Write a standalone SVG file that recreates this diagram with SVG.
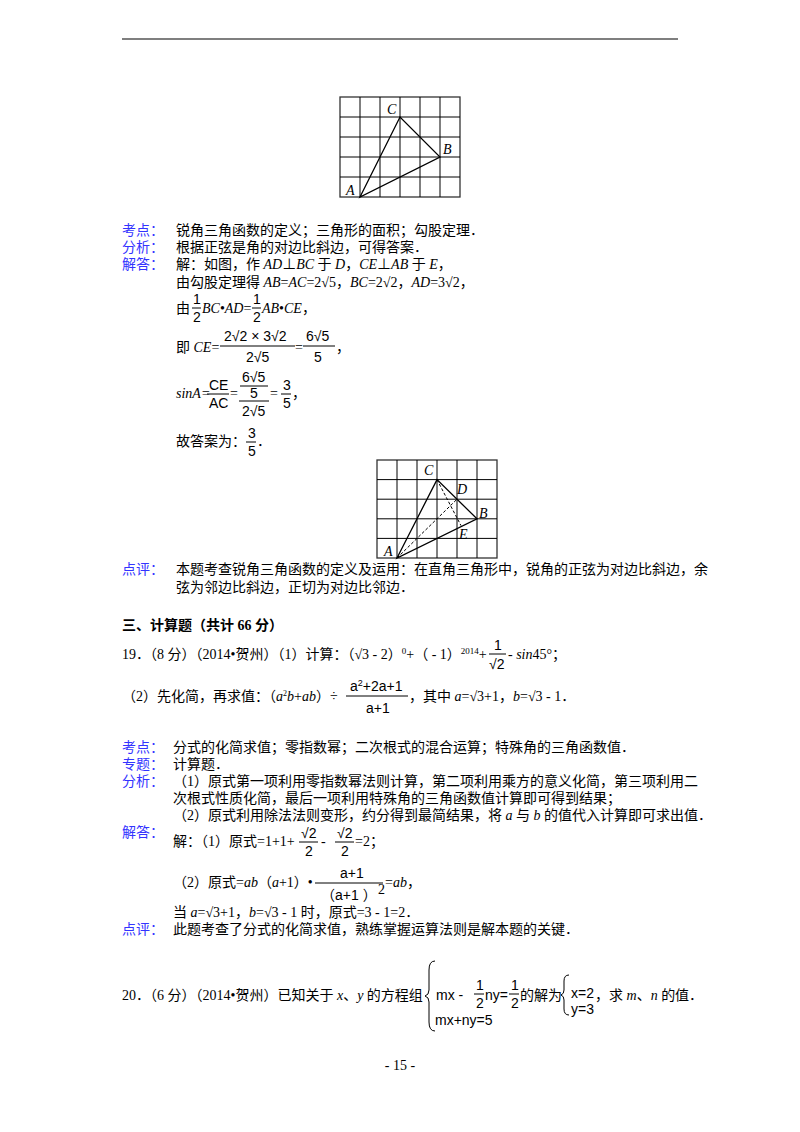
<svg xmlns="http://www.w3.org/2000/svg" width="800" height="1132" viewBox="0 0 800 1132">
<style>
text{font-family:"Liberation Serif","Noto Sans CJK SC",serif;font-size:14px;fill:#000}
.l{fill:#3333ff}
.i{font-style:italic}
.s{font-family:"Liberation Sans","Noto Sans CJK SC",sans-serif}
.b{font-weight:bold}
.g{stroke:#000;stroke-width:1;fill:none}
.g2{stroke:#333;stroke-width:1.3;fill:none}
.t{stroke:#000;stroke-width:1.3;fill:none}
.d{stroke:#000;stroke-width:1;stroke-dasharray:3,2;fill:none}
.f{stroke:#000;stroke-width:1}
</style>
<rect width="800" height="1132" fill="#fff"/>
<line x1="122" y1="39" x2="678" y2="39" stroke="#000" stroke-width="1.2"/>

<g id="fig1">
<rect x="340" y="97" width="120" height="100" class="g2"/>
<path class="g" d="M360 97V197M380 97V197M400 97V197M420 97V197M440 97V197M340 117H460M340 137H460M340 157H460M340 177H460"/>
<path class="t" d="M360 197L400 117L440 157Z"/>
<text x="387" y="114" class="i">C</text>
<text x="443" y="154" class="i">B</text>
<text x="346" y="195" class="i">A</text>
</g>

<g id="sol18">
<text x="122" y="235" class="l">考点：</text><text x="176" y="235">锐角三角函数的定义；三角形的面积；勾股定理．</text>
<text x="122" y="252" class="l">分析：</text><text x="176" y="252">根据正弦是角的对边比斜边，可得答案．</text>
<text x="122" y="269" class="l">解答：</text><text x="176" y="269">解：如图，作 <tspan class="i">AD</tspan>⊥<tspan class="i">BC</tspan> 于 <tspan class="i">D</tspan>，<tspan class="i">CE</tspan>⊥<tspan class="i">AB</tspan> 于 <tspan class="i">E</tspan>，</text>
<text x="176" y="287">由勾股定理得 <tspan class="i">AB</tspan>=<tspan class="i">AC</tspan>=2√5，<tspan class="i">BC</tspan>=2√2，<tspan class="i">AD</tspan>=3√2，</text>
<text x="176" y="313">由</text>
<text x="193" y="304" class="s">1</text><line x1="192" y1="308" x2="201" y2="308" class="f"/><text x="193" y="322" class="s">2</text>
<text x="202" y="313"><tspan class="i">BC</tspan>•<tspan class="i">AD</tspan>=</text>
<text x="253" y="304" class="s">1</text><line x1="252" y1="308" x2="261" y2="308" class="f"/><text x="253" y="322" class="s">2</text>
<text x="262" y="313"><tspan class="i">AB</tspan>•<tspan class="i">CE</tspan>，</text>
<text x="176" y="352">即 <tspan class="i">CE</tspan>=</text>
<text x="224" y="341" class="s">2√2 × 3√2</text><line x1="220" y1="346" x2="295" y2="346" class="f"/><text x="246" y="362" class="s">2√5</text>
<text x="295" y="352">=</text>
<text x="306" y="341" class="s">6√5</text><line x1="303" y1="346" x2="335" y2="346" class="f"/><text x="314" y="362" class="s">5</text>
<text x="336" y="352">，</text>
<text x="176" y="398" class="i">sinA=</text>
<text x="209" y="390" class="s">CE</text><line x1="207" y1="394" x2="229" y2="394" class="f"/><text x="209" y="408" class="s">AC</text>
<text x="230" y="398">=</text>
<text x="242" y="382" class="s">6√5</text><line x1="240" y1="386" x2="268" y2="386" class="f"/><text x="250" y="398" class="s">5</text>
<line x1="239" y1="401" x2="269" y2="401" class="f"/><text x="242" y="416" class="s">2√5</text>
<text x="270" y="398">=</text>
<text x="283" y="390" class="s">3</text><line x1="281" y1="394" x2="291" y2="394" class="f"/><text x="283" y="408" class="s">5</text>
<text x="292" y="398">，</text>
<text x="176" y="446">故答案为：</text>
<text x="248" y="438" class="s">3</text><line x1="246" y1="442" x2="256" y2="442" class="f"/><text x="248" y="456" class="s">5</text>
<text x="257" y="446">．</text>
</g>

<g id="fig2">
<rect x="377" y="460" width="120" height="98" class="g2"/>
<path class="g" d="M397 460V558M417 460V558M437 460V558M457 460V558M477 460V558M377 479.6H497M377 499.2H497M377 518.8H497M377 538.4H497"/>
<path class="t" d="M397 558L437 479.6L477 518.8Z"/>
<path class="d" d="M397 558L457 499.2M437 479.6L461 525.6"/>
<text x="424" y="475" class="i">C</text>
<text x="457" y="494" class="i">D</text>
<text x="479" y="518" class="i">B</text>
<text x="459" y="539" class="i">E</text>
<text x="384" y="556" class="i">A</text>
</g>

<g id="comment18">
<text x="122" y="574" class="l">点评：</text><text x="176" y="574">本题考查锐角三角函数的定义及运用：在直角三角形中，锐角的正弦为对边比斜边，余</text>
<text x="176" y="592">弦为邻边比斜边，正切为对边比邻边．</text>
</g>

<text x="122" y="630" class="b">三、计算题（共计 66 分）</text>

<g id="q19">
<text x="122" y="659">19．（8 分）（2014•贺州）（1）计算：（√3 - 2）<tspan font-size="9" dy="-5">0</tspan><tspan dy="5">+（ - 1）</tspan><tspan font-size="9" dy="-5">2014</tspan><tspan dy="5">+</tspan></text>
<text x="494" y="650" class="s">1</text><line x1="489" y1="654" x2="506" y2="654" class="f"/><text x="489" y="669" class="s">√2</text>
<text x="508" y="659"> - <tspan class="i">sin</tspan>45°；</text>
<text x="122" y="701">（2）先化简，再求值：（<tspan class="i">a</tspan><tspan font-size="8" dy="-5">2</tspan><tspan class="i" dy="5">b</tspan>+<tspan class="i">ab</tspan>）÷</text>
<text x="350" y="691" class="s">a<tspan font-size="9" dy="-5">2</tspan><tspan dy="5">+2a+1</tspan></text>
<line x1="346" y1="696" x2="408" y2="696" class="f"/>
<text x="366" y="713" class="s">a+1</text>
<text x="409" y="701">，其中 <tspan class="i">a</tspan>=√3+1，<tspan class="i">b</tspan>=√3 - 1．</text>
</g>

<g id="sol19">
<text x="122" y="752" class="l">考点：</text><text x="173" y="752">分式的化简求值；零指数幂；二次根式的混合运算；特殊角的三角函数值．</text>
<text x="122" y="769" class="l">专题：</text><text x="173" y="769">计算题．</text>
<text x="122" y="786" class="l">分析：</text><text x="173" y="786">（1）原式第一项利用零指数幂法则计算，第二项利用乘方的意义化简，第三项利用二</text>
<text x="173" y="803">次根式性质化简，最后一项利用特殊角的三角函数值计算即可得到结果；</text>
<text x="173" y="820">（2）原式利用除法法则变形，约分得到最简结果，将 <tspan class="i">a</tspan> 与 <tspan class="i">b</tspan> 的值代入计算即可求出值．</text>
<text x="122" y="837" class="l">解答：</text>
<text x="173" y="846">解：（1）原式=1+1+</text>
<text x="301" y="838" class="s">√2</text><line x1="299" y1="842" x2="318" y2="842" class="f"/><text x="305" y="856" class="s">2</text>
<text x="321" y="846"> - </text>
<text x="337" y="838" class="s">√2</text><line x1="335" y1="842" x2="354" y2="842" class="f"/><text x="341" y="856" class="s">2</text>
<text x="355" y="846">=2；</text>
<text x="173" y="887">（2）原式=<tspan class="i">ab</tspan>（<tspan class="i">a</tspan>+1）•</text>
<text x="340" y="878" class="s">a+1</text><line x1="315" y1="883" x2="383" y2="883" class="f"/>
<text x="321" y="900" class="s">（a+1 ）</text><text x="378" y="894" font-size="9">2</text>
<text x="385" y="887">=<tspan class="i">ab</tspan>，</text>
<text x="173" y="917">当 <tspan class="i">a</tspan>=√3+1，<tspan class="i">b</tspan>=√3 - 1 时，原式=3 - 1=2．</text>
<text x="122" y="934" class="l">点评：</text><text x="173" y="934">此题考查了分式的化简求值，熟练掌握运算法则是解本题的关键．</text>
</g>

<g id="q20">
<text x="122" y="1000">20．（6 分）（2014•贺州）已知关于 <tspan class="i">x</tspan>、<tspan class="i">y</tspan> 的方程组</text>
<path class="g" d="M435 961Q429 961 429 970V990Q429 995 425 996Q429 997 429 1002V1022Q429 1031 435 1031"/>
<text x="436" y="1000" class="s">mx - </text>
<text x="476" y="990" class="s">1</text><line x1="474" y1="994" x2="484" y2="994" class="f"/><text x="476" y="1008" class="s">2</text>
<text x="485" y="1000" class="s">ny=</text>
<text x="511" y="990" class="s">1</text><line x1="509" y1="994" x2="519" y2="994" class="f"/><text x="511" y="1008" class="s">2</text>
<text x="520" y="1000">的解为</text>
<text x="435" y="1025" class="s">mx+ny=5</text>
<path class="g" d="M569 975Q564 975 564 981V990Q564 994 561 995Q564 996 564 1000V1009Q564 1015 569 1015"/>
<text x="571" y="998" class="s">x=2</text>
<text x="571" y="1014" class="s">y=3</text>
<text x="595" y="1000">，求 <tspan class="i">m</tspan>、<tspan class="i">n</tspan> 的值．</text>
</g>

<text x="400" y="1070" text-anchor="middle">- 15 -</text>
</svg>
